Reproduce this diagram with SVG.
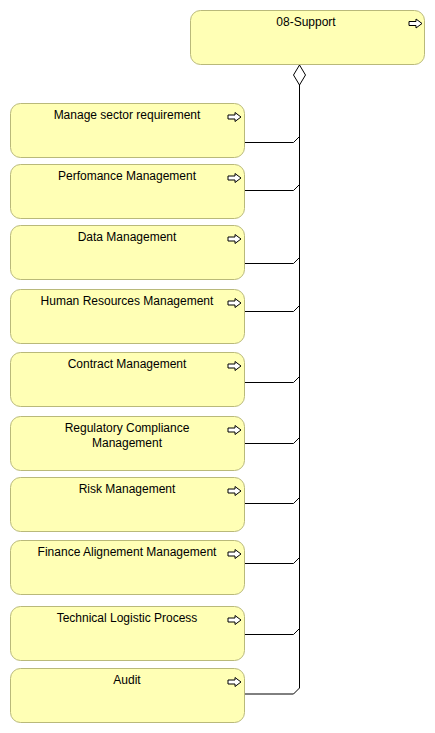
<svg xmlns="http://www.w3.org/2000/svg" width="435" height="733" viewBox="0 0 435 733">
<defs>
<style>
.box{fill:#ffffb5;stroke:#b9b97a;stroke-width:1}
.lbl{font-family:"Liberation Sans",Arial,sans-serif;font-size:12px;fill:#000;text-anchor:middle}
.ico{fill:#fff;stroke:#000;stroke-width:1;stroke-linejoin:miter}
.con{fill:none;stroke:#000;stroke-width:1}
</style>
<path id="arr" class="ico" d="M-13,-2 L-6,-2 L-6,-4.5 L0,0 L-6,4.5 L-6,2 L-13,2 Z"/>
</defs>
<rect width="435" height="733" fill="#fff"/>
<g id="connectors">
<path class="con" d="M299.5,85 L299.5,688 L293.5,694 L244,694"/>
<path class="con" d="M244,142.5 L293.5,142.5 L299.5,136.5"/>
<path class="con" d="M244,190.5 L293.5,190.5 L299.5,184.5"/>
<path class="con" d="M244,263.5 L293.5,263.5 L299.5,257.5"/>
<path class="con" d="M244,311.5 L293.5,311.5 L299.5,305.5"/>
<path class="con" d="M244,382.5 L293.5,382.5 L299.5,376.5"/>
<path class="con" d="M244,443.5 L293.5,443.5 L299.5,437.5"/>
<path class="con" d="M244,503.5 L293.5,503.5 L299.5,497.5"/>
<path class="con" d="M244,563.5 L293.5,563.5 L299.5,557.5"/>
<path class="con" d="M244,634.5 L293.5,634.5 L299.5,628.5"/>
<path d="M299.5,65 L305.5,75 L299.5,85 L293.5,75 Z" fill="#fff" stroke="#000" stroke-width="1"/>
</g>
<g id="n-support">
<rect class="box" x="190.5" y="10.5" width="234" height="54" rx="10"/>
<text class="lbl" x="306" y="26">08-Support</text>
<use href="#arr" x="422" y="23.5"/>
</g>
<g id="n1">
<rect class="box" x="10.5" y="103.5" width="234" height="54" rx="10"/>
<text class="lbl" x="127" y="119">Manage sector requirement</text>
<use href="#arr" x="241" y="117"/>
</g>
<g id="n2">
<rect class="box" x="10.5" y="164.5" width="234" height="54" rx="10"/>
<text class="lbl" x="127" y="180">Perfomance Management</text>
<use href="#arr" x="241" y="178"/>
</g>
<g id="n3">
<rect class="box" x="10.5" y="225.5" width="234" height="54" rx="10"/>
<text class="lbl" x="127" y="241">Data Management</text>
<use href="#arr" x="241" y="239"/>
</g>
<g id="n4">
<rect class="box" x="10.5" y="289.5" width="234" height="54" rx="10"/>
<text class="lbl" x="127" y="305">Human Resources Management</text>
<use href="#arr" x="241" y="303"/>
</g>
<g id="n5">
<rect class="box" x="10.5" y="352.5" width="234" height="54" rx="10"/>
<text class="lbl" x="127" y="368">Contract Management</text>
<use href="#arr" x="241" y="366"/>
</g>
<g id="n6">
<rect class="box" x="10.5" y="416.5" width="234" height="54" rx="10"/>
<text class="lbl" x="127" y="432">Regulatory Compliance</text>
<text class="lbl" x="127" y="447">Management</text>
<use href="#arr" x="241" y="430"/>
</g>
<g id="n7">
<rect class="box" x="10.5" y="477.5" width="234" height="54" rx="10"/>
<text class="lbl" x="127" y="493">Risk Management</text>
<use href="#arr" x="241" y="491"/>
</g>
<g id="n8">
<rect class="box" x="10.5" y="540.5" width="234" height="54" rx="10"/>
<text class="lbl" x="127" y="556">Finance Alignement Management</text>
<use href="#arr" x="241" y="554"/>
</g>
<g id="n9">
<rect class="box" x="10.5" y="606.5" width="234" height="54" rx="10"/>
<text class="lbl" x="127" y="622">Technical Logistic Process</text>
<use href="#arr" x="241" y="620"/>
</g>
<g id="n10">
<rect class="box" x="10.5" y="668.5" width="234" height="54" rx="10"/>
<text class="lbl" x="127" y="684">Audit</text>
<use href="#arr" x="241" y="682"/>
</g>
</svg>
